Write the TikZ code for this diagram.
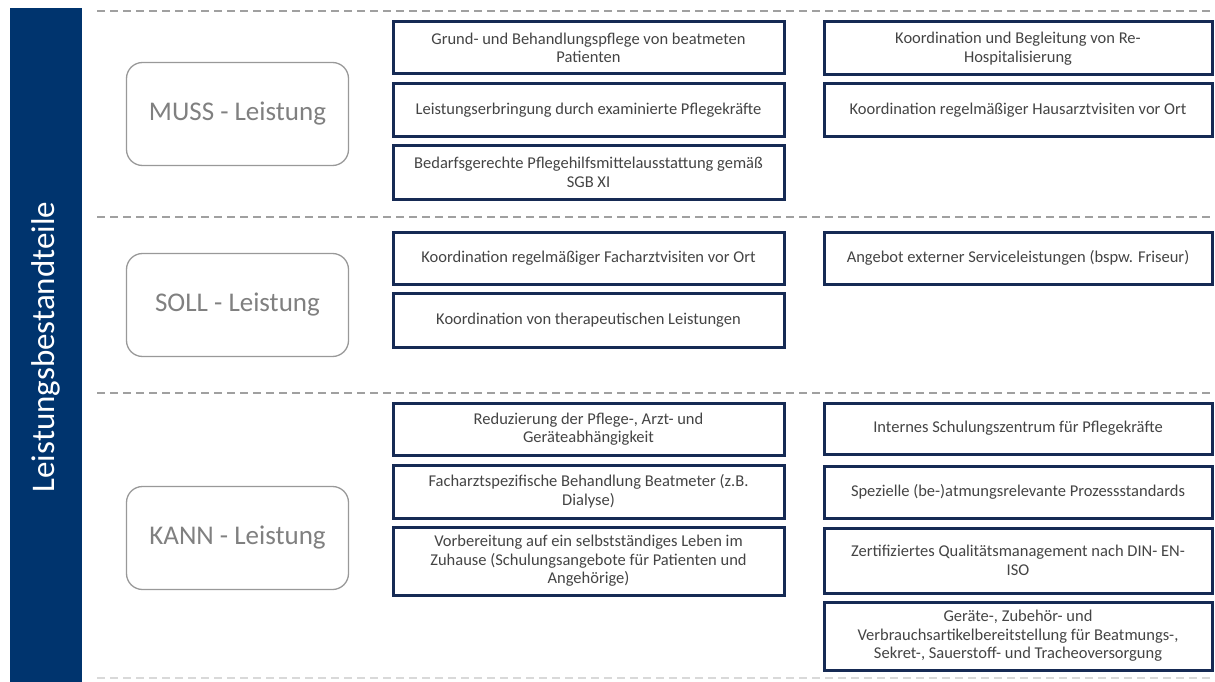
\documentclass[tikz,border=0pt]{standalone}
\usepackage{fontspec}
\setmainfont{Carlito}
\definecolor{navy}{RGB}{0,52,110}
\definecolor{boxline}{RGB}{22,42,84}
\definecolor{txt}{RGB}{68,68,68}
\definecolor{lbl}{RGB}{128,128,128}
\definecolor{dash}{RGB}{160,160,160}
\begin{document}
\begin{tikzpicture}[x=1pt,y=-1pt,
  item/.style={draw=boxline,line width=3pt,fill=white,align=center,text=txt,
    font=\fontsize{16.5}{18.5}\selectfont,inner sep=2pt},
  midcol/.style={item,minimum width=391pt},
  rightcol/.style={item,minimum width=388pt},
  level/.style={draw=lbl!80,line width=1.3pt,rounded corners=16pt,text=lbl,
    minimum width=222pt,minimum height=103pt,font=\fontsize{27}{30}\selectfont},
  sep/.style={draw=dash,line width=1.3pt,dash pattern=on 8pt off 5pt}]
\useasboundingbox (0,0) rectangle (1215,682);
\fill[white] (0,0) rectangle (1215,682);
% side bar
\fill[navy] (10,8) rectangle (82,682);
\node[rotate=90,text=white,font=\fontsize{33}{36}\selectfont] (title) at (46,347) {Leistungsbestandteile};
% separators
\coordinate (d1a) at (97,11);  \coordinate (d1b) at (1215,11);
\coordinate (d2a) at (97,217); \coordinate (d2b) at (1215,217);
\coordinate (d3a) at (97,393); \coordinate (d3b) at (1215,393);
\coordinate (d4a) at (97,678); \coordinate (d4b) at (1215,678);
\draw[sep] (d1a) -- (d1b);
\draw[sep] (d2a) -- (d2b);
\draw[sep] (d3a) -- (d3b);
\draw[sep,draw=dash!40] (d4a) -- (d4b);
% level labels
\node[level] (muss) at (237.5,114) {MUSS - Leistung};
\node[level] (soll) at (237.5,305) {SOLL - Leistung};
\node[level] (kann) at (237.5,538) {KANN - Leistung};
% MUSS
\node[midcol,minimum height=52pt] (m1) at (588.5,48) {Grund- und Behandlungspflege von beatmeten\\Patienten};
\node[midcol,minimum height=53pt] (m2) at (588.5,110.5) {Leistungserbringung durch examinierte Pflegekräfte};
\node[midcol,minimum height=53pt] (m3) at (588.5,172.5) {Bedarfsgerechte Pflegehilfsmittelausstattung gemäß\\SGB XI};
\node[rightcol,minimum height=53pt] (r1) at (1018,48.5) {Koordination und Begleitung von Re-\\Hospitalisierung};
\node[rightcol,minimum height=53pt] (r2) at (1018,110.5) {Koordination regelmäßiger Hausarztvisiten vor Ort};
% SOLL
\node[midcol,minimum height=52pt] (s1) at (588.5,258) {Koordination regelmäßiger Facharztvisiten vor Ort};
\node[midcol,minimum height=54pt] (s2) at (588.5,320) {Koordination von therapeutischen Leistungen};
\node[rightcol,minimum height=52pt] (s3) at (1018,258) {Angebot externer Serviceleistungen (bspw. Friseur)};
% KANN
\node[midcol,minimum height=52pt] (k1) at (588.5,429) {Reduzierung der Pflege-, Arzt- und\\Geräteabhängigkeit};
\node[midcol,minimum height=53pt] (k2) at (588.5,491.5) {Facharztspezifische Behandlung Beatmeter (z.B.\\Dialyse)};
\node[midcol,minimum height=68pt] (k3) at (588.5,561) {Vorbereitung auf ein selbstständiges Leben im\\Zuhause (Schulungsangebote für Patienten und\\Angehörige)};
\node[rightcol,minimum height=51pt] (k4) at (1018,428.5) {Internes Schulungszentrum für Pflegekräfte};
\node[rightcol,minimum height=52pt] (k5) at (1018,492) {Spezielle (be-)atmungsrelevante Prozessstandards};
\node[rightcol,minimum height=65pt] (k6) at (1018,560.5) {Zertifiziertes Qualitätsmanagement nach DIN- EN-\\ISO};
\node[rightcol,minimum height=68pt] (k7) at (1018,636) {Geräte-, Zubehör- und\\Verbrauchsartikelbereitstellung für Beatmungs-,\\Sekret-, Sauerstoff- und Tracheoversorgung};
\end{tikzpicture}
\end{document}
